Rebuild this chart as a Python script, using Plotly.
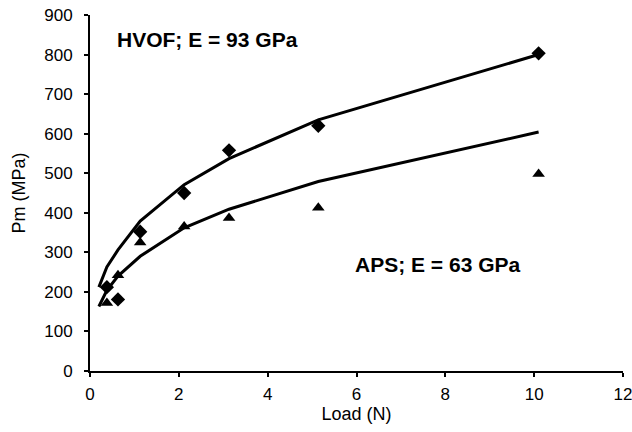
import plotly.graph_objects as go

# Measured data (load in N, Pm in MPa)
hvof_load = [0.38, 0.63, 1.13, 2.12, 3.13, 5.14, 10.1]
hvof_pm = [212, 181, 352, 450, 558, 620, 803]
aps_load = [0.38, 0.63, 1.13, 2.12, 3.13, 5.14, 10.1]
aps_pm = [172, 242, 325, 365, 387, 413, 498]

# Fitted curves
fit_load = [0.2, 0.38, 0.63, 1.13, 2.12, 3.13, 5.14, 10.1]
hvof_fit = [212, 263, 306, 379, 471, 537, 635, 800]
aps_fit = [163, 204, 240, 290, 362, 409, 479, 604]

x_ticks = [0, 2, 4, 6, 8, 10, 12]
y_ticks = [0, 100, 200, 300, 400, 500, 600, 700, 800, 900]

FONT = "Liberation Sans, Arial, sans-serif"

fig = go.Figure()
fig.add_trace(go.Scatter(x=fit_load, y=hvof_fit, mode="lines",
                         line=dict(color="black", width=3), showlegend=False,
                         cliponaxis=False))
fig.add_trace(go.Scatter(x=fit_load, y=aps_fit, mode="lines",
                         line=dict(color="black", width=3), showlegend=False,
                         cliponaxis=False))
fig.add_trace(go.Scatter(x=hvof_load, y=hvof_pm, mode="markers",
                         marker=dict(symbol="diamond", size=11, color="black"),
                         showlegend=False, cliponaxis=False))
fig.add_trace(go.Scatter(x=aps_load, y=aps_pm, mode="markers",
                         marker=dict(symbol="triangle-up", size=11, color="black"),
                         showlegend=False, cliponaxis=False))

fig.add_annotation(x=0.046, y=0.93, xref="paper", yref="paper", text="<b>HVOF; E = 93 GPa</b>",
                   showarrow=False, xanchor="left", yanchor="middle",
                   font=dict(family=FONT, size=21, color="black"))
fig.add_annotation(x=0.494, y=0.298, xref="paper", yref="paper", text="<b>APS; E = 63 GPa</b>",
                   showarrow=False, xanchor="left", yanchor="middle",
                   font=dict(family=FONT, size=21, color="black"))

fig.update_layout(
    width=632, height=432,
    margin=dict(l=90, r=9, t=15, b=61),
    paper_bgcolor="white", plot_bgcolor="white",
    font=dict(family=FONT, size=17, color="black"),
    xaxis=dict(range=[0, 12], tickvals=x_ticks, showgrid=False, zeroline=False,
               showline=True, linecolor="black", linewidth=2, automargin=False,
               ticks="outside", ticklen=4, tickwidth=2, tickcolor="black",
               ticklabelstandoff=3, ticklabeloverflow="allow",
               title=dict(text="Load (N)", font=dict(size=18), standoff=0),
               tickfont=dict(size=17)),
    yaxis=dict(range=[0, 900], tickvals=y_ticks, showgrid=False, zeroline=False,
               showline=True, linecolor="black", linewidth=2, automargin=False,
               ticks="outside", ticklen=4, tickwidth=2, tickcolor="black",
               ticklabelstandoff=8, ticklabeloverflow="allow",
               title=dict(text="Pm (MPa)", font=dict(size=18), standoff=14),
               tickfont=dict(size=17)),
)

fig.write_html("out.html", config={"displayModeBar": False},
               post_script="document.body.style.margin='0';")
